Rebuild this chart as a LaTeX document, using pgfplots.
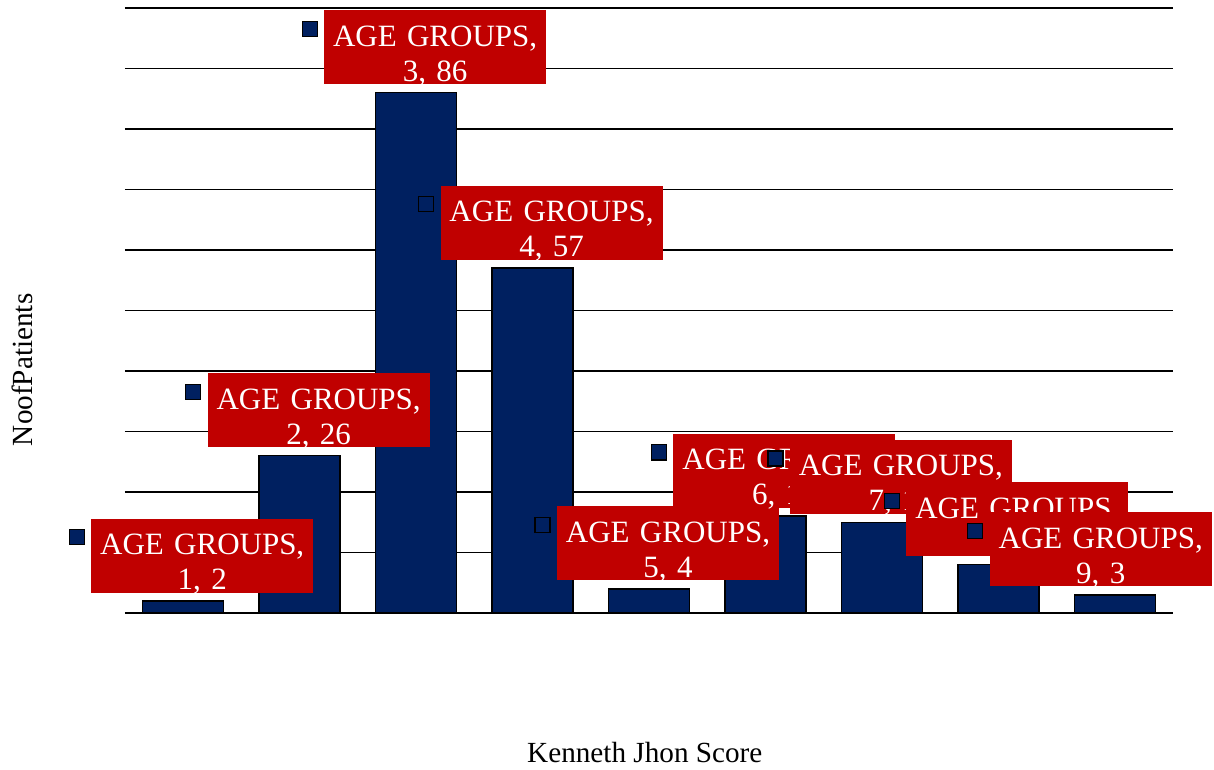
\documentclass[border=0pt]{standalone}
\usepackage{fontspec}
\setmainfont{Liberation Serif}
\usepackage{pgfplots}
\usepackage{pgfplotstable}
\pgfplotsset{compat=1.18}
\definecolor{barnavy}{HTML}{002060}
\definecolor{labelred}{HTML}{C00000}

% Number of patients per Kenneth Jhon score
\pgfplotstableread{
x y
1 2
2 26
3 86
4 57
5 4
6 16
7 15
8 8
9 3
}\agegroups

\pgfplotsset{
  agelabel/.style={
    draw=none, fill=none, forget plot,
    visualization depends on={x \as \xval},
    nodes near coords={\rule{0pt}{18pt}AGE GROUPS,\\\smash{\pgfmathprintnumber{\xval}, \pgfmathprintnumber{\pgfplotspointmeta}}\rule[-1.5pt]{0pt}{1.5pt}},
    every node near coord/.append style={
      anchor=south, xshift=#1, yshift=4pt,
      fill=labelred, text=white, inner sep=0pt,
      text width=111pt, align=center,
      font=\fontsize{15.5}{17.5}\selectfont,
      label={[anchor=center, xshift=-7pt, yshift=-9.5pt,
        fill=barnavy, draw=black, line width=0.6pt,
        minimum size=7.5pt, inner sep=0pt]north west:{}}
    },
  },
}

\begin{document}
\begin{tikzpicture}
\begin{axis}[
  width=524pt, height=302.5pt, scale only axis,
  xmin=0.5, xmax=9.5, ymin=0, ymax=100,
  ytick={0,10,...,100}, yticklabels={}, xtick=\empty,
  ymajorgrids, grid style={black, line width=0.8pt},
  axis line style={draw=none}, major tick length=0pt,
  clip=false,
  /pgf/number format/assume math mode=true,
  xlabel={Kenneth Jhon Score},
  ylabel={NoofPatients},
  xlabel style={at={(axis description cs:0.496,-0.2298)}, anchor=center,
    font=\fontsize{14.6}{17}\selectfont},
  ylabel style={at={(axis description cs:-0.0983,0.402)}, anchor=center,
    font=\fontsize{14.6}{17}\selectfont},
  ybar, bar width=40.5pt, bar shift=0pt,
]
% bars
\addplot[fill=barnavy, draw=black, line width=0.75pt] table[x=x, y=y] {\agegroups};
% data labels (the last one is pulled left to stay inside the chart)
\addplot[agelabel=9.5pt, restrict x to domain=1:8] table[x=x, y=y] {\agegroups};
\addplot[agelabel=-7pt, restrict x to domain=9:9] table[x=x, y=y] {\agegroups};
\coordinate (SW) at (rel axis cs:0,0);
\coordinate (NE) at (rel axis cs:1,1);
\end{axis}
\pgfresetboundingbox
\path ([shift={(-62.5pt,-78.5pt)}]SW) rectangle ([shift={(20.5pt,4pt)}]NE);
\end{tikzpicture}
\end{document}
